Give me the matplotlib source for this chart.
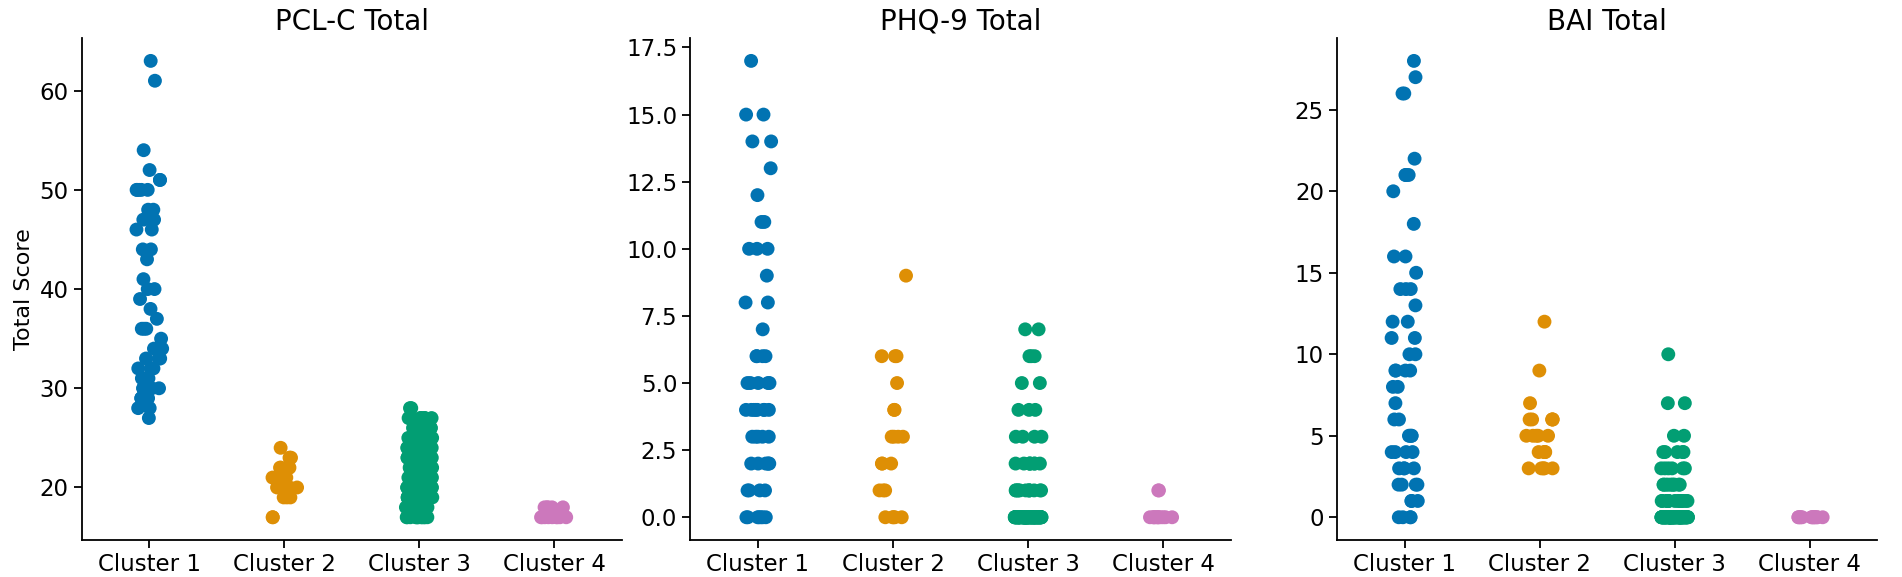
import matplotlib
matplotlib.use("Agg")
import matplotlib.pyplot as plt
import numpy as np
import pandas as pd
import seaborn as sns

plt.rcParams['font.size'] = 16
plt.rcParams['font.family'] = 'DejaVu Sans'

clusters = ["Cluster 1", "Cluster 2", "Cluster 3", "Cluster 4"]
colors = ["#0173b2", "#de8f05", "#029e73", "#cc78bc"]

# PCL-C total scores per cluster
pcl_c1 = [63, 61, 54, 52, 51, 51, 50, 50, 50, 50, 50, 48, 48, 47, 47, 46, 46,
          44, 44, 43, 41, 40, 40, 39, 38, 37, 36, 36, 36, 35, 34, 34, 33, 33, 33,
          32, 32, 32, 31, 31, 31, 31, 30, 30, 30, 30, 30, 30, 29, 29, 29, 29,
          28, 28, 27]
pcl_c2_vals, pcl_c2_n = [24, 23, 22, 21, 20, 19, 17], [1, 3, 4, 5, 4, 3, 2]
pcl_c3_vals = [28, 27, 26, 25, 24, 23, 22, 21, 20, 19, 18, 17]
pcl_c3_n = [2, 8, 12, 15, 15, 15, 15, 15, 15, 15, 15, 12]
pcl_c4_vals, pcl_c4_n = [18, 17], [5, 9]

# PHQ-9 total scores per cluster
phq_c1_vals = [17, 15, 14, 13, 12, 11, 10, 9, 8, 7, 6, 5, 4, 3, 2, 1, 0]
phq_c1_n = [1, 2, 2, 1, 1, 2, 3, 1, 2, 1, 4, 5, 8, 5, 6, 4, 7]
phq_c2_vals, phq_c2_n = [9, 6, 5, 4, 3, 2, 1, 0], [1, 3, 1, 2, 4, 3, 3, 5]
phq_c3_vals, phq_c3_n = [7, 6, 5, 4, 3, 2, 1, 0], [2, 3, 2, 3, 4, 8, 12, 120]
phq_c4_vals, phq_c4_n = [1, 0], [2, 12]

# BAI total scores per cluster
bai_c1_vals = [28, 27, 26, 22, 21, 20, 18, 16, 15, 14, 13, 12, 11, 10, 9, 8,
               7, 6, 5, 4, 3, 2, 1, 0]
bai_c1_n = [1, 1, 2, 1, 3, 1, 1, 2, 1, 3, 1, 2, 2, 2, 4, 2, 1, 2, 4, 4, 4, 4, 3, 4]
bai_c2_vals, bai_c2_n = [12, 9, 7, 6, 5, 4, 3], [1, 1, 1, 5, 5, 4, 5]
bai_c3_vals, bai_c3_n = [10, 7, 5, 4, 3, 2, 1, 0], [1, 2, 2, 5, 6, 10, 15, 113]
bai_c4_vals, bai_c4_n = [0], [14]


def frame(groups):
    rows = []
    for name, vals in zip(clusters, groups):
        for v in vals:
            rows.append((name, v))
    return pd.DataFrame(rows, columns=["cluster", "score"])


panels = [
    ("PCL-C Total", frame([pcl_c1, np.repeat(pcl_c2_vals, pcl_c2_n),
                           np.repeat(pcl_c3_vals, pcl_c3_n),
                           np.repeat(pcl_c4_vals, pcl_c4_n)])),
    ("PHQ-9 Total", frame([np.repeat(phq_c1_vals, phq_c1_n),
                           np.repeat(phq_c2_vals, phq_c2_n),
                           np.repeat(phq_c3_vals, phq_c3_n),
                           np.repeat(phq_c4_vals, phq_c4_n)])),
    ("BAI Total", frame([np.repeat(bai_c1_vals, bai_c1_n),
                         np.repeat(bai_c2_vals, bai_c2_n),
                         np.repeat(bai_c3_vals, bai_c3_n),
                         np.repeat(bai_c4_vals, bai_c4_n)])),
]

fig = plt.figure(figsize=(19.02, 5.77), dpi=100)
lefts = [0.043, 0.363, 0.703]
width = 0.284
axes = [fig.add_axes([l, 0.064, width, 0.87]) for l in lefts]

np.random.seed(3)
for ax, (title, df) in zip(axes, panels):
    sns.stripplot(data=df, x="cluster", y="score", hue="cluster", order=clusters,
                  hue_order=clusters, palette=colors, size=10, jitter=True,
                  legend=False, ax=ax)
    ax.set_title(title, fontsize=20)
    ax.set_xlabel("")
    ax.set_ylabel("")
    ax.spines['top'].set_visible(False)
    ax.spines['right'].set_visible(False)
    ax.spines['left'].set_linewidth(1.3)
    ax.spines['bottom'].set_linewidth(1.3)
    ax.tick_params(width=1.3, length=6, labelsize=16.5)

axes[0].set_ylabel("Total Score", fontsize=16)
fig.savefig("out.png", dpi=100)
